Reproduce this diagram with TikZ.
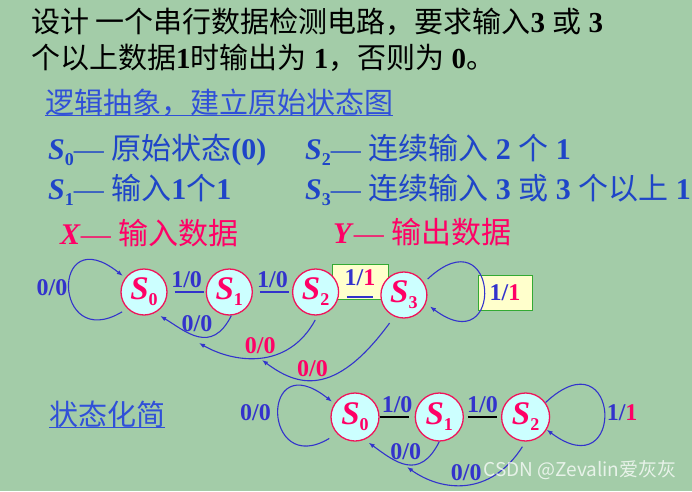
\documentclass[tikz,border=0pt]{standalone}
\usepackage{fontspec}
\setmainfont{Liberation Serif}
\newfontfamily\cjk{Noto Sans CJK SC}
\usetikzlibrary{arrows.meta,positioning}
\definecolor{bggreen}{HTML}{A3CCA8}
\definecolor{ink}{HTML}{3333CC}
\definecolor{royal}{HTML}{1F45C8}
\definecolor{headblue}{HTML}{3050D8}
\definecolor{rose}{HTML}{FF0066}
\definecolor{rim}{HTML}{F0145A}
\definecolor{icecyan}{HTML}{CCFFFF}
\definecolor{cream}{HTML}{FFFFCC}
\definecolor{leaf}{HTML}{33AA33}
% state names: S with a small lowered index
\newcommand{\nS}[1]{\textbf{\textit{S}}\raisebox{-6pt}{\fontsize{18}{18}\selectfont\bfseries #1}}
\newcommand{\dS}[1]{\textbf{\textit{S}}\raisebox{-6pt}{\fontsize{18}{18}\selectfont\bfseries #1}}

\begin{document}
\begin{tikzpicture}[x=1pt,y=1pt,
  title/.style={anchor=west,inner sep=0pt,font=\fontsize{29}{29}\selectfont},
  note/.style={anchor=west,inner sep=0pt,text=royal,font=\fontsize{30}{30}\selectfont},
  head/.style={anchor=west,inner sep=0pt,text=headblue,font=\fontsize{29}{29}\selectfont\cjk},
  headline/.style={draw=headblue,line width=1.3pt},
  state/.style={circle,draw=rim,fill=icecyan,line width=1.3pt,minimum size=46pt,inner sep=0pt,text=rose,font=\fontsize{33}{33}\selectfont},
  io/.style={text=ink,font=\fontsize{24}{24}\selectfont\bfseries,inner sep=1pt},
  tagbox/.style={draw=leaf,fill=cream,line width=1pt,inner sep=0pt},
  link/.style={draw=ink,line width=2.4pt},
  back/.style={draw=ink,line width=1.1pt,-{Latex[length=6pt,width=4.5pt]}},
  node distance=38pt
]
\useasboundingbox (0,0) rectangle (692,491);
\fill[bggreen] (0,0) rectangle (692,491);

% task and legend
\node[title] (line1) at (31,469) {{\cjk 设计 一个串行数据检测电路，要求输入}\textbf{3} {\cjk 或} \textbf{3}};
\node[title] (line2) at (31,433) {{\cjk 个以上数据}\textbf{1}{\cjk 时输出为} \textbf{1}{\cjk ，否则为} \textbf{0}{\cjk 。}};
\node[head] (absh) at (45,388) {逻辑抽象，建立原始状态图};
\draw[headline] ([yshift=1.5pt]absh.south west) -- ([yshift=1.5pt]absh.south east);
\node[note] (d0) at (48,341) {\dS{0}— {\cjk 原始状态}\textbf{(0)}};
\node[note] (d1) at (48,301) {\dS{1}— {\cjk 输入}\textbf{1}{\cjk 个}\textbf{1}};
\node[note] (d2) at (305,341) {\dS{2}— {\cjk 连续输入} \textbf{2} {\cjk 个} \textbf{1}};
\node[note] (d3) at (305,301) {\dS{3}— {\cjk 连续输入} \textbf{3} {\cjk 或} \textbf{3} {\cjk 个以上} \textbf{1}};
\node[note,text=rose] (dx) at (60,258) {\textbf{\textit{X}}— {\cjk 输入数据}};
\node[note,text=rose] (dy) at (333,259) {\textbf{\textit{Y}}— {\cjk 输出数据}};

% original state diagram
\node[tagbox,minimum width=56pt,minimum height=35pt] (box23) at (360,209.5) {};
\node[io] (t23) at (360,213) {1/{\color{rose}1}};
\node[tagbox,io,minimum width=54pt,minimum height=35pt] (out3) at (505,198.5) {1/{\color{rose}1}};

\node[state] (s0) at (144,199) {\nS{0}};
\node[state,right=of s0] (s1) {\nS{1}};
\node[state,right=39pt of s1] (s2) {\nS{2}};
\node[state,right=41pt of s2,yshift=-3pt] (s3) {\nS{3}};

\draw[link,shorten <=7pt,shorten >=2pt] (s0) -- node[io,above=2pt] {1/0} (s1);
\draw[link,shorten <=7pt,shorten >=3pt] (s1) -- node[io,above=2pt] {1/0} (s2);
\draw[link,shorten <=7.5pt,shorten >=7pt] ([yshift=-5pt]s2.east) -- ([yshift=-2pt]s3.west);

\draw[back,shorten <=6pt,shorten >=3pt] (s0.-135) .. controls +(-75,-45) and +(-75,60) .. node[io,pos=0.5,left=1pt] {0/0} (s0.143);
\draw[back,shorten <=5pt,shorten >=5pt] (s3.32) .. controls +(75,70) and +(80,-60) .. (s3.-21);

\coordinate (end2) at (199,148);
\coordinate (end3) at (262,131);
\draw[back,shorten >=6pt] (s1.-85) .. controls +(-20,-40) and +(30,-18) .. node[io,above=3pt] {0/0} (s0.-62);
\draw[back,shorten <=5pt] (s2.-85) .. controls +(-30,-55) and +(35,-20) .. node[io,above=2pt,text=rose] {0/0} (end2);
\draw[back,shorten <=8pt] (s3.-114) .. controls +(-60,-82) and +(35,-26) .. node[io,pos=0.55,above=1pt,text=rose] {0/0} (end3);

% reduced state diagram
\node[head] (redh) at (49,77) {状态化简};
\draw[headline] (redh.south west) -- (redh.south east);

\node[state,minimum size=48pt] (r0) at (355,74) {\nS{0}};
\node[state,minimum size=48pt,right=35pt of r0] (r1) {\nS{1}};
\node[state,minimum size=48pt,right=37pt of r1] (r2) {\nS{2}};

\draw[link,draw=black,shorten >=6pt] (r0) -- node[io,above=2pt] {1/0} (r1);
\draw[link,draw=black,shorten <=4pt,shorten >=4pt] (r1) -- node[io,above=2pt] {1/0} (r2);

\draw[back,shorten <=9pt,shorten >=3pt] (r0.-137) .. controls +(-75,-45) and +(-75,60) .. node[io,pos=0.5,left=7pt] {0/0} (r0.147);
\draw[back] (r2.36) .. controls +(75,70) and +(80,-60) .. node[io,pos=0.5,right=1pt] {1/{\color{rose}1}} (r2.-31);

\coordinate (rend2) at (407,24);
\draw[back,shorten >=5pt] (r1.-90) .. controls +(-20,-40) and +(30,-22) .. node[io,above=3pt] {0/0} (r0.-67);
\draw[back,shorten <=6pt] (r2.-90) .. controls +(-35,-55) and +(35,-25) .. node[io,above=2pt] {0/0} (rend2);

\node[text=white,opacity=0.75,font=\fontsize{19}{19}\selectfont\cjk] (mark) at (580,21) {CSDN @Zevalin爱灰灰};
\end{tikzpicture}
\end{document}
